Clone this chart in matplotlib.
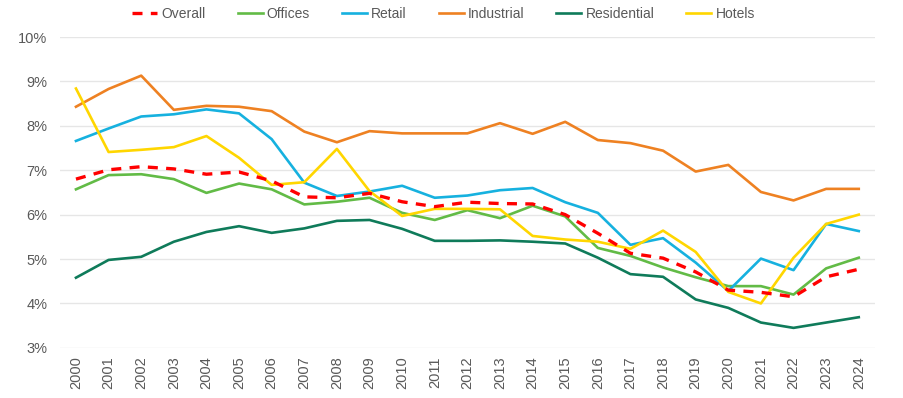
import matplotlib
matplotlib.use("Agg")
import matplotlib.pyplot as plt
from matplotlib.ticker import FuncFormatter

plt.rcParams['font.family'] = ['Liberation Sans', 'DejaVu Sans']

years = [str(y) for y in range(2000, 2025)]

overall = [6.80, 7.01, 7.08, 7.03, 6.91, 6.96, 6.76, 6.40, 6.38, 6.48,
           6.29, 6.18, 6.28, 6.25, 6.24, 6.00, 5.58, 5.13, 5.02, 4.71,
           4.30, 4.25, 4.15, 4.60, 4.77]
offices = [6.57, 6.89, 6.91, 6.80, 6.49, 6.70, 6.57, 6.23, 6.29, 6.38,
           6.04, 5.88, 6.10, 5.92, 6.20, 5.96, 5.25, 5.07, 4.81, 4.59,
           4.39, 4.39, 4.20, 4.79, 5.03]
retail = [7.66, 7.94, 8.21, 8.26, 8.37, 8.28, 7.70, 6.72, 6.42, 6.52,
          6.65, 6.38, 6.43, 6.55, 6.60, 6.28, 6.04, 5.32, 5.47, 4.92,
          4.28, 5.01, 4.75, 5.79, 5.63]
industrial = [8.43, 8.83, 9.13, 8.36, 8.45, 8.43, 8.33, 7.87, 7.63, 7.88,
              7.83, 7.83, 7.83, 8.06, 7.82, 8.09, 7.68, 7.61, 7.44, 6.97,
              7.12, 6.51, 6.32, 6.58, 6.58]
residential = [4.58, 4.98, 5.05, 5.39, 5.61, 5.74, 5.59, 5.69, 5.86, 5.88,
               5.68, 5.41, 5.41, 5.42, 5.39, 5.35, 5.03, 4.66, 4.60, 4.09,
               3.90, 3.57, 3.45, 3.57, 3.69]
hotels = [8.84, 7.41, 7.46, 7.52, 7.77, 7.28, 6.67, 6.73, 7.48, 6.53,
          5.97, 6.13, 6.13, 6.12, 5.52, 5.44, 5.39, 5.23, 5.64, 5.16,
          4.26, 4.00, 5.03, 5.79, 6.00]

series = [
    ("Overall", overall, "#FF0000", "--"),
    ("Offices", offices, "#62BB46", "-"),
    ("Retail", retail, "#16B1DF", "-"),
    ("Industrial", industrial, "#EE8122", "-"),
    ("Residential", residential, "#0F7B5A", "-"),
    ("Hotels", hotels, "#FFD600", "-"),
]

fig = plt.figure(figsize=(9.04, 3.98), dpi=100)
ax = fig.add_axes([0.066, 0.126, 0.902, 0.781])

x = list(range(len(years)))
for name, vals, col, ls in series:
    if ls == "--":
        ax.plot(x, vals, color=col, linestyle=(0, (3, 2.5)), linewidth=2.4, label=name, zorder=3)
    else:
        ax.plot(x, vals, color=col, linewidth=1.9, label=name, zorder=2)

ax.set_xlim(-0.5, len(years) - 0.5)
ax.set_ylim(3, 10)
ax.set_yticks(range(3, 11))
ax.yaxis.set_major_formatter(FuncFormatter(lambda v, p: f"{int(v)}%"))
ax.set_xticks(x)
ax.set_xticklabels(years, rotation=90)
ax.grid(axis='y', color='#E6E6E6', linewidth=1)
ax.set_axisbelow(True)
for s in ax.spines.values():
    s.set_visible(False)
ax.tick_params(axis='both', length=0, labelsize=10.5, colors='#595959')
ax.tick_params(axis='y', pad=9)
ax.tick_params(axis='x', pad=6)

leg = fig.legend(loc='center', bbox_to_anchor=(0.4906, 0.966), ncol=6, frameon=False,
                 fontsize=10, handlelength=1.8, handletextpad=0.3, columnspacing=2.3)
for t in leg.get_texts():
    t.set_color('#595959')

fig.savefig("out.png", dpi=100)
